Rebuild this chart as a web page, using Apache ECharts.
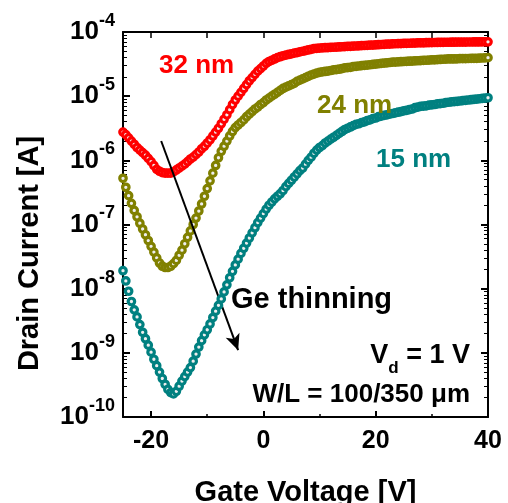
<!DOCTYPE html>
<html><head><meta charset="utf-8">
<script src="https://cdn.jsdelivr.net/npm/echarts@6/dist/echarts.min.js"></script>
<style>html,body{margin:0;padding:0;background:#fff}#c{width:508px;height:503px}</style>
</head><body><div id="c"></div>
<script>
// Gate voltage sweep [V]
const gateVoltage = [
-25,-24.5,-24,-23.5,-23,-22.5,-22,-21.5,-21,-20.5,
-20,-19.5,-19,-18.5,-18,-17.5,-17,-16.5,-16,-15.5,
-15,-14.5,-14,-13.5,-13,-12.5,-12,-11.5,-11,-10.5,
-10,-9.5,-9,-8.5,-8,-7.5,-7,-6.5,-6,-5.5,
-5,-4.5,-4,-3.5,-3,-2.5,-2,-1.5,-1,-0.5,
0,0.5,1,1.5,2,2.5,3,3.5,4,4.5,
5,5.5,6,6.5,7,7.5,8,8.5,9,9.5,
10,10.5,11,11.5,12,12.5,13,13.5,14,14.5,
15,15.5,16,16.5,17,17.5,18,18.5,19,19.5,
20,20.5,21,21.5,22,22.5,23,23.5,24,24.5,
25,25.5,26,26.5,27,27.5,28,28.5,29,29.5,
30,30.5,31,31.5,32,32.5,33,33.5,34,34.5,
35,35.5,36,36.5,37,37.5,38,38.5,39,39.5,
40];
// log10 of drain current [A]
const logId32nm = [
-5.56,-5.60,-5.65,-5.70,-5.75,-5.80,-5.84,-5.88,-5.92,-5.97,
-6.02,-6.08,-6.14,-6.17,-6.19,-6.20,-6.20,-6.20,-6.18,-6.15,
-6.12,-6.09,-6.06,-6.02,-5.98,-5.95,-5.91,-5.87,-5.82,-5.78,
-5.73,-5.68,-5.62,-5.56,-5.50,-5.43,-5.36,-5.29,-5.21,-5.13,
-5.06,-5.00,-4.94,-4.88,-4.82,-4.76,-4.71,-4.66,-4.61,-4.57,
-4.53,-4.49,-4.46,-4.44,-4.42,-4.40,-4.385,-4.37,-4.36,-4.35,
-4.34,-4.33,-4.32,-4.31,-4.30,-4.29,-4.28,-4.27,-4.26,-4.255,
-4.25,-4.248,-4.245,-4.243,-4.24,-4.238,-4.235,-4.233,-4.23,-4.228,
-4.225,-4.223,-4.22,-4.218,-4.215,-4.213,-4.21,-4.208,-4.205,-4.203,
-4.20,-4.198,-4.195,-4.193,-4.19,-4.188,-4.185,-4.183,-4.18,-4.18,
-4.178,-4.176,-4.175,-4.173,-4.172,-4.17,-4.169,-4.168,-4.167,-4.166,
-4.165,-4.164,-4.163,-4.162,-4.161,-4.16,-4.16,-4.159,-4.159,-4.158,
-4.158,-4.157,-4.157,-4.156,-4.156,-4.155,-4.155,-4.155,-4.154,-4.154,
-4.153];
const logId24nm = [
-6.28,-6.42,-6.55,-6.67,-6.78,-6.88,-6.98,-7.07,-7.16,-7.25,
-7.34,-7.43,-7.52,-7.60,-7.65,-7.67,-7.67,-7.65,-7.61,-7.56,
-7.48,-7.40,-7.30,-7.20,-7.10,-7.00,-6.90,-6.79,-6.68,-6.56,
-6.44,-6.32,-6.20,-6.08,-5.96,-5.86,-5.78,-5.70,-5.62,-5.55,
-5.49,-5.45,-5.41,-5.37,-5.32,-5.28,-5.24,-5.20,-5.17,-5.13,
-5.10,-5.06,-5.03,-5.00,-4.97,-4.94,-4.91,-4.88,-4.86,-4.84,
-4.82,-4.80,-4.77,-4.75,-4.73,-4.71,-4.69,-4.67,-4.655,-4.64,
-4.63,-4.62,-4.615,-4.61,-4.60,-4.59,-4.585,-4.58,-4.57,-4.56,
-4.555,-4.55,-4.54,-4.535,-4.53,-4.525,-4.52,-4.515,-4.51,-4.505,
-4.50,-4.495,-4.49,-4.485,-4.48,-4.475,-4.47,-4.468,-4.465,-4.463,
-4.46,-4.458,-4.455,-4.453,-4.45,-4.448,-4.445,-4.443,-4.44,-4.438,
-4.435,-4.433,-4.43,-4.428,-4.425,-4.423,-4.42,-4.42,-4.42,-4.418,
-4.415,-4.415,-4.415,-4.413,-4.41,-4.41,-4.41,-4.408,-4.405,-4.403,
-4.40];
const logId15nm = [
-7.72,-7.88,-8.04,-8.20,-8.33,-8.44,-8.56,-8.68,-8.78,-8.88,
-8.99,-9.10,-9.20,-9.30,-9.40,-9.49,-9.57,-9.62,-9.64,-9.60,
-9.52,-9.44,-9.37,-9.30,-9.23,-9.13,-9.02,-8.91,-8.81,-8.72,
-8.64,-8.55,-8.45,-8.35,-8.26,-8.16,-8.05,-7.94,-7.83,-7.73,
-7.63,-7.54,-7.45,-7.37,-7.29,-7.21,-7.13,-7.05,-6.97,-6.90,
-6.83,-6.76,-6.70,-6.65,-6.60,-6.56,-6.52,-6.47,-6.41,-6.36,
-6.31,-6.26,-6.21,-6.16,-6.12,-6.06,-6.00,-5.95,-5.89,-5.84,
-5.80,-5.77,-5.73,-5.70,-5.67,-5.64,-5.61,-5.58,-5.55,-5.52,
-5.50,-5.48,-5.46,-5.44,-5.43,-5.41,-5.40,-5.38,-5.37,-5.35,
-5.34,-5.32,-5.31,-5.30,-5.29,-5.28,-5.27,-5.26,-5.25,-5.24,
-5.23,-5.22,-5.21,-5.20,-5.18,-5.17,-5.16,-5.155,-5.15,-5.14,
-5.135,-5.13,-5.12,-5.115,-5.11,-5.10,-5.095,-5.09,-5.085,-5.08,
-5.075,-5.07,-5.065,-5.06,-5.055,-5.05,-5.045,-5.04,-5.035,-5.03,
-5.025];
const seriesNames = ['32 nm','24 nm','15 nm'];
const seriesColors = ['#ff0000','#808000','#008080'];
const xMajorTicks = [-20,0,20,40];
const xMinorTicks = [-10,10,30];
const xTopTicks = [-20,-10,0,10,20,30,40];
const yMajorTicks = [1e-10,1e-9,1e-8,1e-7,1e-6,1e-5,1e-4];
const yMinorTicks = [
2e-10,3e-10,4e-10,5e-10,6e-10,7e-10,8e-10,9e-10,
2e-9,3e-9,4e-9,5e-9,6e-9,7e-9,8e-9,9e-9,
2e-8,3e-8,4e-8,5e-8,6e-8,7e-8,8e-8,9e-8,
2e-7,3e-7,4e-7,5e-7,6e-7,7e-7,8e-7,9e-7,
2e-6,3e-6,4e-6,5e-6,6e-6,7e-6,8e-6,9e-6,
2e-5,3e-5,4e-5,5e-5,6e-5,7e-5,8e-5,9e-5];
// arrow "Ge thinning": [gate voltage, current]
const arrowStart = [-18.2, 2.0e-6];
const arrowEnd = [-4.5, 1.1e-9];

const FONT = '"Liberation Sans", Arial, sans-serif';
const toPairs = arr => gateVoltage.map((v, i) => [v, Math.pow(10, arr[i])]);
const logData = [logId32nm, logId24nm, logId15nm];

const X0 = -25, X1 = 40, Y0 = 1e-10, Y1 = 1e-4;
const baseX = (extra) => Object.assign({
  type: 'value', min: X0, max: X1, splitLine: {show: false},
  axisLine: {show: false, onZero: false}, axisLabel: {show: false}, axisTick: {show: false}
}, extra);
const baseY = (extra) => Object.assign({
  type: 'log', logBase: 10, min: Y0, max: Y1, splitLine: {show: false}, minorTick: {show: false},
  axisLine: {show: false, onZero: false}, axisLabel: {show: false}, axisTick: {show: false}
}, extra);

const chart = echarts.init(document.getElementById('c'), null, {renderer: 'canvas'});
chart.setOption({
  animation: false,
  backgroundColor: '#fff',
  grid: {left: 123, right: 20, top: 32, bottom: 86, containLabel: false, outerBoundsMode: 'none'},
  xAxis: [
    baseX({
      position: 'bottom',
      axisLine: {show: true, onZero: false, lineStyle: {color: '#000', width: 2}},
      axisTick: {show: true, inside: true, length: 6, customValues: xMajorTicks, lineStyle: {color: '#000', width: 2}},
      axisLabel: {show: true, customValues: xMajorTicks, margin: 12, color: '#000', fontSize: 25, fontWeight: 'bold', fontFamily: FONT},
      name: 'Gate Voltage [V]', nameLocation: 'middle', nameGap: 61,
      nameTextStyle: {color: '#000', fontSize: 29, fontWeight: 'bold', fontFamily: FONT}
    }),
    baseX({
      position: 'bottom',
      axisTick: {show: true, inside: true, length: 3, customValues: xMinorTicks, lineStyle: {color: '#000', width: 1.5}}
    }),
    baseX({
      position: 'top',
      axisLine: {show: true, onZero: false, lineStyle: {color: '#000', width: 2}},
      axisTick: {show: true, inside: true, length: 6, customValues: xTopTicks, lineStyle: {color: '#000', width: 1.5}}
    })
  ],
  yAxis: [
    baseY({
      position: 'left',
      axisLine: {show: true, onZero: false, lineStyle: {color: '#000', width: 2}},
      axisTick: {show: true, inside: true, length: 7, customValues: yMajorTicks, lineStyle: {color: '#000', width: 2}},
      axisLabel: {
        show: true, customValues: yMajorTicks, margin: 8,
        formatter: v => '{a|10}{b|' + Math.round(Math.log10(v)) + '}',
        rich: {
          a: {fontSize: 26, fontWeight: 'bold', color: '#000', fontFamily: FONT},
          b: {fontSize: 18, fontWeight: 'bold', color: '#000', fontFamily: FONT, padding: [0, 0, 22, 0]}
        }
      },
      name: 'Drain Current [A]', nameLocation: 'middle', nameGap: 79,
      nameTextStyle: {color: '#000', fontSize: 29, fontWeight: 'bold', fontFamily: FONT, padding: [0, 58, 0, 0]}
    }),
    baseY({
      position: 'left',
      axisTick: {show: true, inside: true, length: 4, customValues: yMinorTicks, lineStyle: {color: '#000', width: 1}}
    }),
    baseY({
      position: 'right',
      axisLine: {show: true, onZero: false, lineStyle: {color: '#000', width: 2}},
      axisTick: {show: true, inside: true, length: 7, customValues: yMajorTicks, lineStyle: {color: '#000', width: 2}}
    }),
    baseY({
      position: 'right',
      axisTick: {show: true, inside: true, length: 4, customValues: yMinorTicks, lineStyle: {color: '#000', width: 1}}
    })
  ],
  series: logData.map((arr, k) => {
    const s = {
      name: seriesNames[k], type: 'scatter', xAxisIndex: 0, yAxisIndex: 0,
      data: toPairs(arr), symbol: 'circle', symbolSize: 6.5, silent: true,
      itemStyle: {color: '#eeeeee', borderColor: seriesColors[k], borderWidth: 3.2, opacity: 1},
      emphasis: {disabled: true}, z: 3 + k
    };
    if (k === 0) {
      s.markLine = {
        silent: true, symbol: ['none', 'arrow'], symbolSize: [11, 16], precision: 12,
        label: {show: false}, emphasis: {disabled: true},
        lineStyle: {color: '#000', width: 2, type: 'solid'},
        data: [[{coord: arrowStart}, {coord: arrowEnd}]]
      };
    }
    return s;
  }),
  graphic: [
    {type: 'text', x: 159, y: 66, z: 100, style: {text: '32 nm', fill: '#ff0000', font: 'bold 26px ' + FONT, align: 'left', verticalAlign: 'middle'}},
    {type: 'text', x: 317, y: 106, z: 100, style: {text: '24 nm', fill: '#808000', font: 'bold 26px ' + FONT, align: 'left', verticalAlign: 'middle'}},
    {type: 'text', x: 376, y: 160, z: 100, style: {text: '15 nm', fill: '#008080', font: 'bold 26px ' + FONT, align: 'left', verticalAlign: 'middle'}},
    {type: 'text', x: 231, y: 300, z: 100, style: {text: 'Ge thinning', fill: '#000', font: 'bold 29px ' + FONT, align: 'left', verticalAlign: 'middle'}},
    {type: 'text', x: 470, y: 356, z: 100, style: {
      text: '{v|V}{s|d}{v| = 1 V}', align: 'right', verticalAlign: 'middle',
      rich: {
        v: {fontSize: 27, fontWeight: 'bold', fill: '#000', fontFamily: FONT},
        s: {fontSize: 17, fontWeight: 'bold', fill: '#000', fontFamily: FONT, padding: [24, 0, 0, 0]}
      }}},
    {type: 'text', x: 470, y: 395, z: 100, style: {text: 'W/L = 100/350 μm', fill: '#000', font: 'bold 26px ' + FONT, align: 'right', verticalAlign: 'middle'}}
  ]
});
</script></body></html>
